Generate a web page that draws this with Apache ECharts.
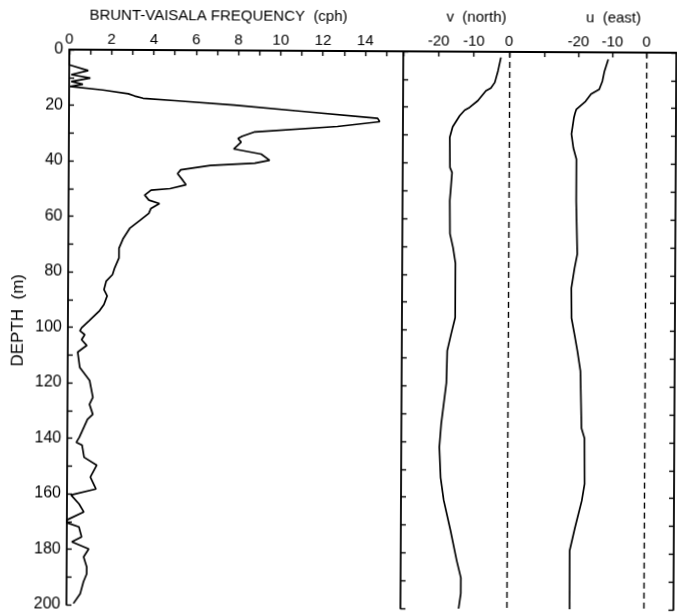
<!DOCTYPE html>
<html>
<head>
<meta charset="utf-8">
<script src="https://cdn.jsdelivr.net/npm/echarts@6/dist/echarts.min.js"></script>
<style>
  html, body { margin: 0; padding: 0; background: #ffffff; }
  #chart { width: 677px; height: 614px; transform: rotate(0.3deg); }
</style>
</head>
<body>
<div id="chart"></div>
<script>
// Brunt-Vaisala frequency profile (cph) against depth (m)
const depthN = [0, 5.5, 7.5, 9, 10.2, 11.5, 12.5, 13.3, 14.5, 15.8, 16.6, 17.4, 18.2, 19.7, 21.8, 24.2, 25.4, 27.2,
  29.3, 30.9, 31.7, 33.0, 35.5, 37.3, 39.5, 40.6, 41.5, 43.1, 44.5, 46.9, 48.5, 49.9, 50.5, 52.3, 54.1, 55.3,
  57.1, 58.9, 61.3, 64.3, 67.9, 71.5, 75, 78.6, 81, 83.4, 86.4, 88.7, 91.8, 94, 97.7, 100.2, 101.3, 102.7,
  104.5, 106.6, 107.4, 109, 114.5, 119.2, 125.3, 127.8, 131.4, 133.2, 139.7, 141.5, 142.5, 146.9, 149.7, 154,
  158.3, 160.5, 163.7, 166.6, 169.5, 170.5, 172, 175.6, 177.4, 179.9, 182.8, 186.4, 188.9, 191.7, 196, 199.6];
const freqN = [0, 0, 0.9, 0.1, 1.0, 0.1, 0.65, 0.05, 1.6, 2.8, 3.1, 3.5, 5.0, 7.8, 11.0, 14.6, 14.7, 12.7,
  8.8, 8.2, 8.0, 8.15, 7.8, 9.1, 9.5, 8.8, 6.7, 5.3, 5.15, 5.4, 5.55, 4.8, 3.9, 3.6, 3.8, 4.3,
  3.9, 3.8, 3.4, 2.9, 2.6, 2.4, 2.4, 2.2, 2.1, 1.8, 1.7, 1.85, 1.7, 1.5, 1.0, 0.65, 0.57, 0.8,
  0.65, 0.9, 0.75, 0.47, 0.57, 1.04, 1.2, 1.04, 1.2, 0.95, 0.57, 0.43, 0.7, 0.8, 1.4, 1.1,
  1.37, 0.19, 0.57, 0.8, 0, 0, 0.57, 0.7, 0.24, 1.04, 0.8, 0.95, 0.95, 0.8, 0.65, 0.33];

// Northward velocity component v against depth
const depthV = [2, 6.8, 11, 13, 14, 17.6, 20, 21, 23, 27, 30.8, 41.6, 43.4, 48.7, 53.5, 65.4, 70.4, 76,
  95.5, 101.3, 107.4, 119, 133.6, 142, 153, 161, 172, 182.8, 188.9, 194.6, 200];
const northV = [-2.3, -3.1, -4.0, -5.1, -6.5, -8.8, -11.1, -12.5, -13.9, -15.9, -16.7, -16.6, -16.0, -16.3, -16.6, -16.5, -15.6, -14.9,
  -14.9, -16.0, -17.1, -17.3, -18.7, -19.2, -18.8, -17.9, -15.9, -14.1, -12.9, -12.9, -13.5];

// Eastward velocity component u against depth
const depthU = [2.5, 6.8, 10.4, 13.3, 15, 17.6, 20.5, 22, 23.5, 29.4, 34.5, 38.4, 53.5, 72.5, 77.6, 84.7,
  95.5, 101.3, 107.4, 114.5, 135, 138.6, 155, 161, 170.9, 179, 200];
const eastU = [-11.2, -12.3, -12.9, -13.8, -16.2, -17.8, -20.5, -20.9, -21.2, -21.9, -21.3, -20.4, -20.4, -20.0, -20.8, -21.7,
  -21.6, -20.7, -19.8, -18.9, -18.5, -17.6, -17.5, -18.3, -20.3, -21.8, -21.7];

// Tick labels
const freqLabels = [0, 2, 4, 6, 8, 10, 12, 14];
const velLabels = [-20, -10, 0];
const depthLabels = [0, 20, 40, 60, 80, 100, 120, 140, 160, 180, 200];

const FONT = '"Liberation Sans", Arial, Helvetica, sans-serif';
const INK = '#000000';

const pairs = (xs, ys) => xs.map((x, i) => [x, ys[i]]);

function topAxis(grid, min, max, interval, shown) {
  return {
    type: 'value', gridIndex: grid, position: 'top', min: min, max: max, interval: interval,
    axisLine: { show: true, onZero: false, lineStyle: { color: INK, width: 1.8 } },
    axisTick: { show: true, inside: true, length: 5, lineStyle: { color: INK, width: 1.4 } },
    axisLabel: {
      show: true, margin: 3, color: INK, fontSize: 15, fontFamily: FONT,
      showMinLabel: true, showMaxLabel: false,
      formatter: v => (shown.indexOf(v) >= 0 ? String(v) : '')
    },
    splitLine: { show: false }
  };
}

function depthAxis(grid, position, labels) {
  return {
    type: 'value', gridIndex: grid, position: position, inverse: true, min: 0, max: 200, interval: 10,
    axisLine: { show: true, onZero: false, lineStyle: { color: INK, width: 1.8 } },
    axisTick: { show: true, inside: true, length: 5, lineStyle: { color: INK, width: 1.4 } },
    axisLabel: {
      show: labels, margin: 6, color: INK, fontSize: 16, fontFamily: FONT,
      formatter: v => (depthLabels.indexOf(v) >= 0 ? String(v) : '')
    },
    splitLine: { show: false }
  };
}

const zeroLine = {
  silent: true, symbol: 'none', label: { show: false },
  lineStyle: { type: [6, 4], color: INK, width: 1.4 },
  data: [{ xAxis: 0 }]
};

const profileStyle = { color: INK, width: 1.7 };

function caption(text, x, y, size, rotation) {
  return {
    type: 'text', x: x, y: y, rotation: rotation || 0, silent: true,
    style: { text: text, align: 'center', verticalAlign: 'middle', font: size + 'px ' + FONT, fill: INK }
  };
}

const option = {
  backgroundColor: '#ffffff',
  animation: false,
  grid: [
    { left: 68, top: 51, width: 334, height: 557 },
    { left: 402, top: 51, width: 141, height: 557 },
    { left: 543, top: 51, width: 132, height: 557 }
  ],
  xAxis: [
    topAxis(0, 0, 15.8, 1, freqLabels),
    topAxis(1, -30, 10, 10, velLabels),
    topAxis(2, -30, 8.8, 10, velLabels)
  ],
  yAxis: [
    depthAxis(0, 'left', true),
    depthAxis(1, 'left', false),
    depthAxis(2, 'right', false)
  ],
  graphic: [
    caption('BRUNT-VAISALA FREQUENCY  (cph)', 217, 17, 15),
    caption('v  (north)', 475, 17, 15),
    caption('u  (east)', 612, 17, 15),
    caption('DEPTH  (m)', 18, 322, 17, Math.PI / 2)
  ],
  series: [
    {
      type: 'line', xAxisIndex: 0, yAxisIndex: 0, data: pairs(freqN, depthN),
      showSymbol: false, lineStyle: profileStyle, silent: true
    },
    {
      type: 'line', xAxisIndex: 1, yAxisIndex: 1, data: pairs(northV, depthV),
      showSymbol: false, lineStyle: profileStyle, silent: true, markLine: zeroLine
    },
    {
      type: 'line', xAxisIndex: 2, yAxisIndex: 2, data: pairs(eastU, depthU),
      showSymbol: false, lineStyle: profileStyle, silent: true, markLine: zeroLine
    }
  ]
};

const chart = echarts.init(document.getElementById('chart'), null, { renderer: 'canvas' });
chart.setOption(option);
</script>
</body>
</html>
